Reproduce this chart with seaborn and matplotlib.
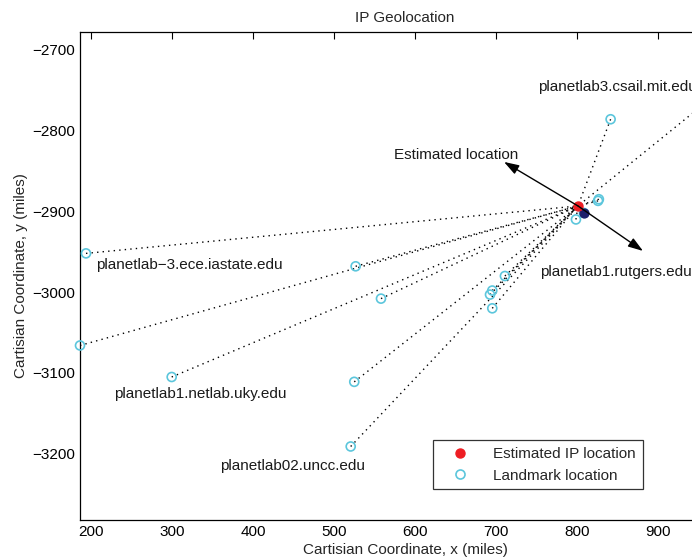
import numpy as np
import pandas as pd
import matplotlib
matplotlib.use('Agg')
import matplotlib.pyplot as plt
import seaborn as sns
from matplotlib.lines import Line2D

# landmark coordinates (miles)
land_x = [193.8, 186.4, 299.6, 526.7, 558.0, 525.0, 520.6, 711.0, 695.4, 692.6,
          695.4, 798.7, 827.0, 826.0, 841.5, 808.6, 970.4]
land_y = [-2952, -3066, -3105, -2968, -3008, -3111, -3191, -2980, -2998, -3003,
          -3020, -2910, -2885, -2887, -2786, -2902, -2756]

est_x, est_y = [801.2], [-2893.3]     # estimated IP location
true_x, true_y = [808.6], [-2902.0]   # dark dot near the estimate

label_names = ['planetlab3.csail.mit.edu', 'Estimated location', 'planetlab1.rutgers.edu',
               'planetlab\u22123.ece.iastate.edu', 'planetlab1.netlab.uky.edu',
               'planetlab02.uncc.edu']
label_x = [751.8, 574.0, 754.3, 206.2, 228.4, 359.2]
label_y = [-2745.8, -2830.0, -2975.0, -2966.4, -3126.3, -3215.5]

arrow_tips_x = [709.9, 881.5]
arrow_tips_y = [-2838.8, -2949.0]

sns.set_style('white')
plt.rcParams['font.family'] = ['Liberation Sans', 'DejaVu Sans']
fs = 11

fig = plt.figure(figsize=(6.92, 5.6), dpi=100)
ax = fig.add_axes([80 / 692, 40 / 560, 650 / 692, 488 / 560])

# dotted lines from each landmark to the estimate
for x, y in zip(land_x, land_y):
    ax.plot([x, est_x[0]], [y, est_y[0]], linestyle=(0, (1, 3)), color='black', linewidth=1.0, zorder=1)

df = pd.DataFrame({'x': land_x, 'y': land_y})
sns.scatterplot(data=df, x='x', y='y', ax=ax, marker='o', s=42, facecolors='none',
                edgecolors='#5cc6dc', linewidth=1.2, zorder=3, clip_on=False)
ax.scatter(true_x, true_y, s=40, color='#1c1f6b', zorder=4)
ax.scatter(est_x, est_y, s=42, color='#ee1d23', zorder=5)

for tx, ty in zip(arrow_tips_x, arrow_tips_y):
    ax.annotate('', xy=(tx, ty), xytext=(est_x[0], est_y[0]),
                arrowprops=dict(arrowstyle='-|>,head_length=0.9,head_width=0.3',
                                color='black', lw=1.0, shrinkA=0, shrinkB=0), zorder=6)

for name, x, y in zip(label_names, label_x, label_y):
    ax.text(x, y, name, ha='left', va='center', fontsize=fs, color='#1a1a1a')

ax.set_xlim(186.4, 988.9)
ax.set_ylim(-3282, -2678)
ax.set_xticks([200, 300, 400, 500, 600, 700, 800, 900])
ax.set_yticks([-3200, -3100, -3000, -2900, -2800, -2700])
ax.tick_params(direction='in', length=5, top=True, right=True, labelsize=fs, colors='black')
for s in ax.spines.values():
    s.set_color('black')
    s.set_linewidth(0.9)

ax.set_title('IP Geolocation', fontsize=fs, pad=7)
ax.set_xlabel('Cartisian Coordinate, x (miles)', fontsize=fs, labelpad=3)
ax.set_ylabel('Cartisian Coordinate, y (miles)', fontsize=fs, labelpad=3)

handles = [Line2D([], [], marker='o', linestyle='none', color='#ee1d23', markersize=6.5),
           Line2D([], [], marker='o', linestyle='none', markerfacecolor='none',
                  markeredgecolor='#5cc6dc', markersize=6.5, markeredgewidth=1.2)]
leg = fig.legend(handles, ['Estimated IP location', 'Landmark location'],
                 loc='upper left', bbox_to_anchor=(433 / 692, 1 - 440 / 560),
                 fancybox=False, frameon=True, fontsize=fs, handletextpad=0.9,
                 borderpad=0.45, labelspacing=0.5, handlelength=2.6, borderaxespad=0)
leg.get_frame().set_edgecolor('black')
leg.get_frame().set_linewidth(0.9)

fig.savefig('out.png', dpi=100)
